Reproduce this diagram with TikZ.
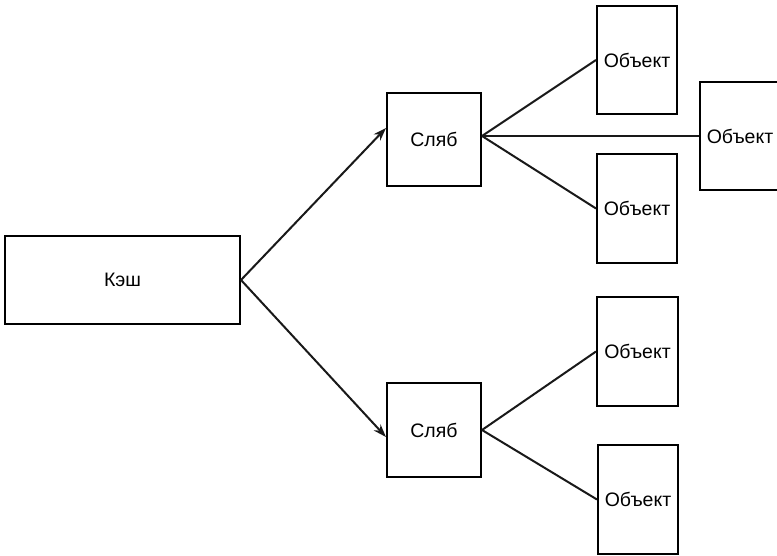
\documentclass[tikz,border=0pt]{standalone}
\usepackage{fontspec}
\setmainfont{Liberation Sans}
\usetikzlibrary{arrows.meta}
\begin{document}
\begin{tikzpicture}[x=1pt,y=-1pt,
  box/.style={draw=black, line width=2pt, inner sep=0pt, font=\fontsize{19.5}{22}\selectfont},
  link/.style={draw=black!90, line width=2pt},
  arrowlink/.style={link, -{Stealth[length=13pt,width=9pt]}}]
  \useasboundingbox (0,0) rectangle (777,556);
  \clip (0,0) rectangle (777,556);

  % cache and its slabs
  \node[box, minimum width=235pt, minimum height=88pt] (cache) at (122.5,280) {Кэш};
  \node[box, minimum width=94pt, minimum height=93pt] (s1) at (434,139.5) {Сляб};
  \node[box, minimum width=94pt, minimum height=94pt] (s2) at (434,430) {Сляб};

  % objects
  \node[box, minimum width=80pt, minimum height=108pt] (o1) at (637,60) {Объект};
  \node[box, minimum width=80pt, minimum height=109pt] (o2) at (637,208.5) {Объект};
  \node[box, minimum width=80pt, minimum height=108pt] (o3) at (740,136) {Объект};
  \node[box, minimum width=81pt, minimum height=109pt] (o4) at (637.5,351.5) {Объект};
  \node[box, minimum width=80pt, minimum height=109pt] (o5) at (638,499.5) {Объект};

  % cache -> slabs
  \draw[arrowlink] (cache.east) -- ([yshift=11.5pt]s1.west);
  \draw[arrowlink] (cache.east) -- ([yshift=-7pt]s2.west);

  % slabs -- objects
  \draw[link] ([yshift=3.5pt]s1.east) -- (o1.west);
  \draw[link] ([yshift=3.5pt]s1.east) -- (o3.west);
  \draw[link] ([yshift=3.5pt]s1.east) -- (o2.west);
  \draw[link] (s2.east) -- (o4.west);
  \draw[link] (s2.east) -- (o5.west);
\end{tikzpicture}
\end{document}
